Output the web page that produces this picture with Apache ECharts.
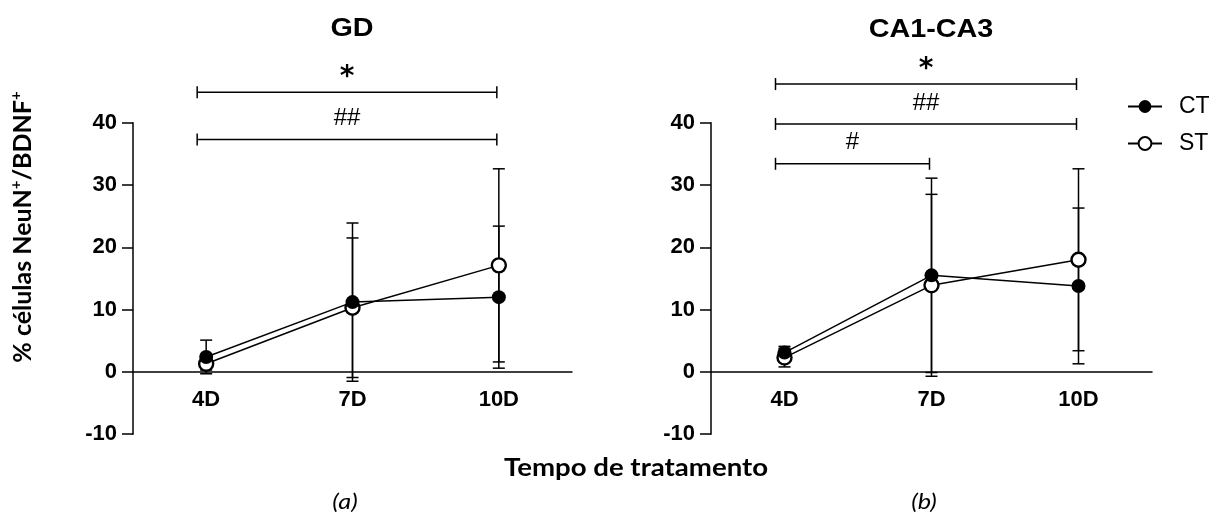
<!DOCTYPE html>
<html>
<head>
<meta charset="utf-8">
<script src="https://cdn.jsdelivr.net/npm/echarts@6/dist/echarts.min.js"></script>
<style>
  html, body { margin: 0; padding: 0; background: #fff; }
  #chart { width: 1209px; height: 515px; }
</style>
</head>
<body>
<div id="chart"></div>
<script>
// Treatment time points
const categories = ['4D', '7D', '10D'];

// GD: mean and SD per time point
const gdCT = [2.4, 11.2, 12.0];
const gdCTsd = [2.7, 12.7, 11.4];
const gdST = [1.3, 10.3, 17.1];
const gdSTsd = [1.0, 11.2, 15.5];

// CA1-CA3: mean and SD per time point
const caCT = [3.1, 15.5, 13.8];
const caCTsd = [1.0, 15.6, 12.5];
const caST = [2.3, 13.9, 18.0];
const caSTsd = [1.5, 14.6, 14.6];

// Significance brackets: [from category, to category, y value, mark]
const gdBrackets = [[0, 2, 44.9, '*'], [0, 2, 37.3, '##']];
const caBrackets = [[0, 2, 46.2, '*'], [0, 2, 39.8, '##'], [0, 1, 33.4, '#']];

const yMin = -10, yMax = 40, yStep = 10;

const SANS = '"Liberation Sans", Arial, sans-serif';
const CAL = 'Lato, "Open Sans", sans-serif';
const INK = '#000';

const GRID_TOP = 122.7, GRID_H = 311.5;
// shift the category axis up so it crosses the value axis at zero
const xAxisOffset = -((0 - yMin) / (yMax - yMin)) * GRID_H;

function errData(means, sds) {
  return means.map((m, i) => [i, m - sds[i], m + sds[i]]);
}

function renderErr(params, api) {
  const x = api.value(0);
  const lo = api.coord([x, api.value(1)]);
  const hi = api.coord([x, api.value(2)]);
  const w = 6;
  const st = { stroke: INK, lineWidth: 1.5 };
  return {
    type: 'group',
    children: [
      { type: 'line', shape: { x1: lo[0], y1: lo[1], x2: hi[0], y2: hi[1] }, style: st },
      { type: 'line', shape: { x1: lo[0] - w, y1: lo[1], x2: lo[0] + w, y2: lo[1] }, style: st },
      { type: 'line', shape: { x1: hi[0] - w, y1: hi[1], x2: hi[0] + w, y2: hi[1] }, style: st }
    ]
  };
}

const bracketSets = {};

function renderBracket(params, api) {
  const a = api.coord([api.value(0), api.value(2)]);
  const b = api.coord([api.value(1), api.value(2)]);
  const mark = bracketSets[params.seriesIndex][params.dataIndex][3];
  const x1 = a[0] - 9, x2 = b[0] - 2, y = a[1], h = 6;
  const st = { stroke: INK, lineWidth: 1.5 };
  const isStar = mark === '*';
  return {
    type: 'group',
    children: [
      { type: 'line', shape: { x1: x1, y1: y, x2: x2, y2: y }, style: st },
      { type: 'line', shape: { x1: x1, y1: y - h, x2: x1, y2: y + h }, style: st },
      { type: 'line', shape: { x1: x2, y1: y - h, x2: x2, y2: y + h }, style: st },
      {
        type: 'text',
        x: (x1 + x2) / 2,
        y: y - (isStar ? 14 : 21),
        style: {
          text: mark,
          fill: INK,
          align: 'center',
          verticalAlign: 'middle',
          font: isStar ? 'bold 28px "DejaVu Sans", sans-serif' : '24px ' + SANS
        }
      }
    ]
  };
}

function panelAxes(idx) {
  return {
    x: {
      type: 'category',
      gridIndex: idx,
      data: categories,
      boundaryGap: true,
      offset: xAxisOffset,
      axisLine: { onZero: false, lineStyle: { color: INK, width: 1.5 } },
      axisTick: { alignWithLabel: true, length: 11, lineStyle: { color: INK, width: 1.5 } },
      axisLabel: { color: INK, fontSize: 22, fontWeight: 'bold', fontFamily: SANS, margin: 17 },
      splitLine: { show: false }
    },
    y: {
      type: 'value',
      gridIndex: idx,
      min: yMin,
      max: yMax,
      interval: yStep,
      axisLine: { show: true, lineStyle: { color: INK, width: 1.5 } },
      axisTick: { show: true, length: 11, lineStyle: { color: INK, width: 1.5 } },
      axisLabel: { color: INK, fontSize: 22, fontWeight: 'bold', fontFamily: SANS, margin: 16 },
      splitLine: { show: false }
    }
  };
}

const ax0 = panelAxes(0), ax1 = panelAxes(1);

function lineSeries(name, idx, values, open) {
  return {
    name: name,
    type: 'line',
    xAxisIndex: idx,
    yAxisIndex: idx,
    data: values,
    symbol: 'circle',
    symbolSize: 14,
    z: 5,
    lineStyle: { color: INK, width: 1.5 },
    itemStyle: open
      ? { color: '#fff', borderColor: INK, borderWidth: 2.4 }
      : { color: INK, borderColor: INK, borderWidth: 0 },
    emphasis: { disabled: true }
  };
}

function errSeries(idx, means, sds) {
  return {
    type: 'custom',
    xAxisIndex: idx,
    yAxisIndex: idx,
    data: errData(means, sds),
    renderItem: renderErr,
    z: 2,
    silent: true
  };
}

const series = [
  { type: 'custom', xAxisIndex: 0, yAxisIndex: 0, data: gdBrackets.map(b => [b[0], b[1], b[2]]),
    renderItem: renderBracket, clip: false, silent: true, z: 3 },
  { type: 'custom', xAxisIndex: 1, yAxisIndex: 1, data: caBrackets.map(b => [b[0], b[1], b[2]]),
    renderItem: renderBracket, clip: false, silent: true, z: 3 },
  errSeries(0, gdCT, gdCTsd),
  errSeries(0, gdST, gdSTsd),
  errSeries(1, caCT, caCTsd),
  errSeries(1, caST, caSTsd),
  lineSeries('ST', 0, gdST, true),
  lineSeries('CT', 0, gdCT, false),
  lineSeries('ST', 1, caST, true),
  lineSeries('CT', 1, caCT, false)
];
bracketSets[0] = gdBrackets;
bracketSets[1] = caBrackets;

function label(text, x, y, font, extra) {
  return Object.assign({
    type: 'text', x: x, y: y, scaleX: 1.15,
    style: { text: text, fill: INK, align: 'center', verticalAlign: 'middle', font: font }
  }, extra || {});
}

const option = {
  animation: false,
  backgroundColor: '#fff',
  grid: [
    { left: 133, top: GRID_TOP, width: 439, height: GRID_H, containLabel: false },
    { left: 711, top: GRID_TOP, width: 441, height: GRID_H, containLabel: false }
  ],
  xAxis: [ax0.x, ax1.x],
  yAxis: [ax0.y, ax1.y],
  legend: {
    data: ['CT', 'ST'],
    orient: 'vertical',
    left: 1122,
    top: 90,
    itemWidth: 34,
    itemHeight: 16,
    itemGap: 14,
    textStyle: { color: INK, fontSize: 23, fontFamily: SANS, padding: [0, 0, 0, 12] },
    selectedMode: false
  },
  graphic: [
    label('GD', 352, 29, 'bold 25px ' + SANS),
    label('CA1-CA3', 931, 30, 'bold 25px ' + SANS),
    {
      type: 'text', x: 23, y: 227, rotation: Math.PI / 2,
      style: {
        text: '% células NeuN{sup|+}/BDNF{sup|+}',
        fill: INK, align: 'center', verticalAlign: 'middle',
        font: 'bold 25px ' + CAL, lineHeight: 28,
        rich: { sup: { fontSize: 15, fontWeight: 'bold', fontFamily: CAL, verticalAlign: 'top', lineHeight: 28 } }
      }
    },
    label('Tempo de tratamento', 636, 468, 'bold 24px ' + CAL),
    label('(a)', 345, 502, 'italic 22px ' + CAL),
    label('(b)', 924, 502, 'italic 22px ' + CAL)
  ],
  series: series
};

const chart = echarts.init(document.getElementById('chart'), null, { renderer: 'canvas' });
chart.setOption(option);
</script>
</body>
</html>
